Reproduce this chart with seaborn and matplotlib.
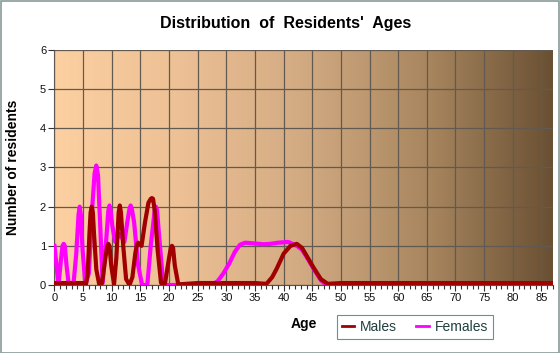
import numpy as np
import pandas as pd
import matplotlib
matplotlib.use('Agg')
import matplotlib.pyplot as plt
from matplotlib.colors import LinearSegmentedColormap
from matplotlib.patches import Rectangle
from matplotlib.ticker import MultipleLocator
import seaborn as sns

# values (age, number of residents)
male_ages = [0, 1, 2, 3, 4, 5, 5.5, 5.8, 6.1, 6.3, 6.5, 6.7, 6.9, 7.3, 7.8, 8.3, 8.8,
             9.2, 9.4, 9.6, 9.9, 10.4, 10.8, 11.2, 11.4, 11.6, 12.0, 12.5, 13.1, 13.6,
             14.1, 14.4, 14.6, 14.9, 15.2, 15.8, 16.4, 16.8, 17.0, 17.2, 17.5, 18.0,
             18.6, 19.3, 19.9, 20.3, 20.5, 20.7, 21.0, 21.6, 22, 25, 28, 30, 35, 37,
             38, 38.8, 40, 41.2, 42.3, 43.2, 44, 45.2, 46.5, 47.7, 50, 60, 70, 80, 87]
male_counts = [0.05, 0.05, 0.05, 0.05, 0.05, 0.05, 0.02, 0.3, 1.3, 1.85, 2.0, 1.85,
               1.3, 0.4, 0.02, 0.05, 0.6, 1.0, 1.05, 1.0, 0.5, 0.02, 0.7, 1.85, 2.03,
               1.85, 1.0, 0.15, 0.0, 0.2, 0.8, 1.05, 1.08, 1.03, 1.0, 1.6, 2.1, 2.2,
               2.22, 2.2, 1.9, 0.9, 0.05, 0.05, 0.6, 0.95, 1.0, 0.95, 0.5, 0.02, 0.02,
               0.05, 0.05, 0.05, 0.05, 0.03, 0.2, 0.42, 0.8, 1.0, 1.05, 0.95, 0.75,
               0.45, 0.15, 0.03, 0.05, 0.05, 0.05, 0.05, 0.05]

female_ages = [0, 0.7, 1.1, 1.4, 1.6, 1.8, 2.1, 2.5, 3.3, 3.8, 4.2, 4.4, 4.6, 4.9, 5.4,
               6.0, 6.6, 7.0, 7.3, 7.6, 7.9, 8.4, 8.9, 9.4, 9.6, 9.8, 10.1, 10.6, 11.4,
               12.2, 12.7, 13.1, 13.3, 13.5, 13.9, 14.6, 15.3, 16.2, 16.8, 17.5, 17.7,
               17.9, 18.3, 19.0, 20, 25, 27.4, 28.5, 29.5, 30.5, 31.5, 32.4, 33.3, 35,
               36.5, 37.6, 39, 40.8, 42.3, 43.2, 44, 45.2, 46.5, 47.5, 50, 87]
female_counts = [1.0, 0.0, 0.6, 1.0, 1.05, 1.0, 0.5, 0.0, 0.0, 0.8, 1.8, 2.0, 1.8, 0.9,
                 0.0, 0.3, 2.0, 2.85, 3.05, 2.8, 1.8, 0.05, 0.9, 1.9, 2.03, 1.9, 1.5,
                 1.1, 1.3, 1.1, 1.6, 1.95, 2.03, 1.95, 1.6, 0.5, 0.0, 0.0, 1.0, 1.92,
                 2.0, 1.92, 1.2, 0.0, 0.0, 0.0, 0.0, 0.1, 0.3, 0.55, 0.85, 1.03, 1.08,
                 1.06, 1.04, 1.05, 1.08, 1.1, 1.0, 0.9, 0.72, 0.42, 0.12, 0.0, 0.0, 0.0]

df = pd.concat([
    pd.DataFrame({'Age': male_ages, 'Count': male_counts, 'Sex': 'Males'}),
    pd.DataFrame({'Age': female_ages, 'Count': female_counts, 'Sex': 'Females'}),
], ignore_index=True)

plt.rcParams['font.family'] = ['Liberation Sans', 'DejaVu Sans']

fig = plt.figure(figsize=(5.6, 3.53), dpi=100)
fig.patch.set_facecolor('white')
ax = fig.add_axes([0.0973, 0.1926, 0.89, 0.6658])

# background gradient of the plot area
bg = LinearSegmentedColormap.from_list(
    'bg', ['#FDD0A2', '#EDC095', '#D2AA82', '#A8865F', '#6A5033'])
ax.imshow(np.linspace(0, 1, 256).reshape(1, -1), cmap=bg, aspect='auto',
          extent=[0, 87, 0, 6], zorder=0)

ax.xaxis.set_major_locator(MultipleLocator(5))
ax.xaxis.set_minor_locator(MultipleLocator(1))
ax.yaxis.set_major_locator(MultipleLocator(1))
ax.grid(True, which='major', color='#625a50', linewidth=0.9, zorder=1)
ax.set_axisbelow(False)

sns.lineplot(data=df, x='Age', y='Count', hue='Sex', estimator=None, sort=True,
             palette={'Males': '#A00000', 'Females': '#FF00FF'},
             hue_order=['Females', 'Males'], linewidth=3, ax=ax, legend=False,
             zorder=3)
# males drawn over females
for line in ax.get_lines():
    if str(line.get_color()).lower() == '#a00000':
        line.set_zorder(4)

ax.set_xlim(0, 87)
ax.set_ylim(0, 6)
for s in ['top', 'right']:
    ax.spines[s].set_visible(False)
for s in ['left', 'bottom']:
    ax.spines[s].set_color('#555555')
ax.tick_params(axis='both', which='major', labelsize=8, colors='#333333',
               length=4, width=0.8, pad=2)
ax.tick_params(axis='x', which='minor', length=3, width=0.8, colors='#333333')
ax.tick_params(labelcolor='#111111')

ax.set_xlabel('Age', fontsize=10, fontweight='bold', labelpad=10)
ax.set_ylabel('Number of residents', fontsize=10, fontweight='bold', labelpad=14)
fig.suptitle("Distribution  of  Residents'  Ages", x=0.51, y=0.955,
             fontsize=11.5, fontweight='bold')

handles = [plt.Line2D([], [], color='#A00000', lw=2),
           plt.Line2D([], [], color='#FF00FF', lw=2)]
leg = fig.legend(handles, ['Males', 'Females'], loc='center',
                 bbox_to_anchor=(0.741, 0.073), ncol=2, frameon=True,
                 fontsize=10, handlelength=0.9, handletextpad=0.4,
                 columnspacing=1.4, borderpad=0.35, fancybox=False)
leg.get_frame().set_edgecolor('#3a7a7a')
leg.get_frame().set_linewidth(0.8)
for t in leg.get_texts():
    t.set_color('#1f3f3f')

fig.add_artist(Rectangle((0.001, 0.001), 0.997, 0.996, transform=fig.transFigure,
                         fill=False, edgecolor='#8a9a9a', linewidth=1.2))

fig.savefig('out.png', dpi=100)
